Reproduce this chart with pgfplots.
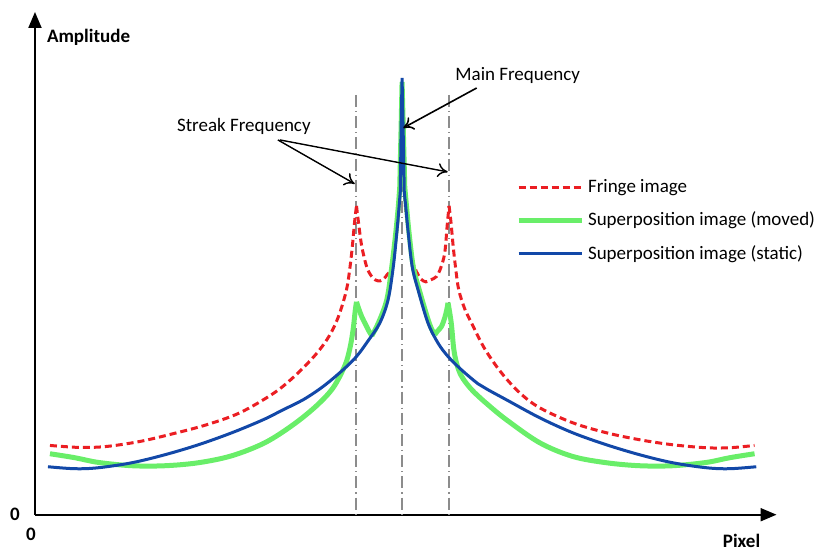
\documentclass[border=0pt]{standalone}
\usepackage{pgfplots}
\pgfplotsset{compat=1.18}
\usepackage{fontspec}
\setmainfont{Carlito}
\usetikzlibrary{arrows.meta}
\definecolor{cred}{RGB}{235,30,35}
\definecolor{cgreen}{RGB}{105,238,105}
\definecolor{cblue}{RGB}{18,72,168}
\definecolor{cgray}{RGB}{140,140,140}
\begin{document}
\begin{tikzpicture}
\begin{axis}[
  scale only axis, width=371pt, height=251.5pt,
  xmin=35, xmax=777, ymin=37, ymax=540,
  axis lines=left,
  axis line style={line width=1pt, -{Triangle[length=8pt,width=6.5pt]}},
  xtick=\empty, ytick=\empty,
  clip=false,
  legend cell align=left,
  legend style={at={(axis cs:516,377)}, anchor=north west, draw=none, fill=none,
    font=\fontsize{9.5}{11}\selectfont, row sep=4.3pt, inner sep=0pt},
  legend image code/.code={\draw[#1] (0pt,0pt) -- (31.5pt,0pt);},
  redl/.style={cred, line width=1.5pt, dash pattern=on 3.5pt off 2pt},
  grnl/.style={cgreen, line width=2.5pt},
  blul/.style={cblue, line width=1.5pt},
  sm/.style={smooth, tension=0.55},
]
\path (axis cs:0,0) rectangle (axis cs:819,552);
% reference lines
\addplot[forget plot, cgray, line width=1pt, dash pattern=on 6pt off 2pt on 0.6pt off 2pt] coordinates {(356.5,457) (356.5,37)};
\addplot[forget plot, cgray, line width=1pt, dash pattern=on 6pt off 2pt on 0.6pt off 2pt] coordinates {(402.5,457) (402.5,37)};
\addplot[forget plot, cgray, line width=1pt, dash pattern=on 6pt off 2pt on 0.6pt off 2pt] coordinates {(449,457) (449,37)};
% Fringe image
\addplot[redl, sm] coordinates {
(50,106.3) (80,104.3) (106.7,105.3) (140,110.3) (173,118) (206.7,127) (240,139)
(273,158) (293,174) (313,194) (325,209) (333.3,223) (340,239) (346.7,262)
(350,283) (352.5,305) (354.8,330) (356.7,346)};
\addlegendentry{Fringe image}
\addplot[redl, sm, forget plot] coordinates {
(356.7,346) (359,327) (361.7,307) (365,292) (368,282) (373,274) (378,271) (383,272)
(388,278) (391.7,284) (396,312) (399,342) (401,372) (402.3,402)};
\addplot[redl, sm, forget plot] coordinates {
(402.3,402) (404,372) (406,342)
(410,312) (413,290) (416.7,280.3) (421,273) (426,270) (431,272) (436.7,275.3)
(441,284) (445,299) (447.5,327) (449.3,346)};
\addplot[redl, sm, forget plot] coordinates {
(449.3,346) (451.2,330) (453.5,305) (456,283) (459,262) (465,243)
(471.7,229) (485,203) (501.7,179) (520,159) (540,144) (573,129) (606.7,119) (640,112)
(673,107) (706.7,104) (730,104) (755,106.3)};
% Superposition moved
\addplot[grnl, sm] coordinates {
(50,98) (75,94) (98.5,89.3) (132,86) (165,86) (198.5,89) (232,96) (265,109)
(293.3,127) (316.7,146) (333.3,164) (345,186) (350,203) (353.3,222)
(355.3,240) (356.7,250)};
\addlegendentry{Superposition image (moved)}
\addplot[grnl, sm, forget plot] coordinates {
(356.7,250) (359,243) (362,235) (366,227) (369,221) (372,216)};
\addplot[grnl, sm, forget plot] coordinates {
(372,216) (378.5,228.7) (387,252) (392,285) (396,319) (398.5,345) (400,365)};
\addplot[grnl, forget plot] coordinates {
(400,365) (401.5,432) (402.3,470) (403.3,432) (405,365)};
\addplot[grnl, sm, forget plot] coordinates {
(405,365) (406.8,345) (409.3,319) (413.5,285) (419.5,262) (429.5,228.7) (435,217)};
\addplot[grnl, sm, forget plot] coordinates {
(435,217) (438,221) (441.7,225.3) (445,234) (447,242) (448.3,249)};
\addplot[grnl, sm, forget plot] coordinates {
(448.3,249) (451.5,229) (454,203) (457,188) (461,177) (467,168) (475,159)
(488.3,147) (506.7,132) (540,109) (573,95.3) (606.7,89) (640,86) (673,86)
(706.7,89.3) (730,94) (755,98)};
% Superposition static
\addplot[blul, sm] coordinates {
(48,85) (75,83) (98.5,84) (132,89) (165,97) (198.5,107) (232,119) (263.3,132)
(283.3,142) (303.3,152) (323.3,165.3) (343.3,182) (356.7,195.3) (368.3,211)
(380,228.7) (388.3,252) (393.5,285) (397,319) (399.3,345) (400.5,360)};
\addlegendentry{Superposition image (static)}
\addplot[blul, forget plot] coordinates {
(400.5,360) (401.5,432) (402.3,474) (403.2,432) (404.5,360)};
\addplot[blul, sm, forget plot] coordinates {
(404.5,360) (406,345) (408.5,319) (412.5,285) (418.3,262) (428.3,228.7)
(438.3,208.7) (448.3,195.3) (461.7,182) (478.3,168) (488.3,162) (506.7,152)
(540,134) (573,119) (606.7,107) (640,97) (673,89) (706.7,84) (730,83) (756.7,85)};
% annotations
\draw[line width=0.8pt, -{To[length=5pt,width=7pt]}] (axis cs:477,464) -- (axis cs:403.5,424);
\draw[line width=0.7pt, -{To[length=5pt,width=7pt]}] (axis cs:278,412) -- (axis cs:355,368);
\draw[line width=0.7pt, -{To[length=5pt,width=7pt]}] (axis cs:280,412) -- (axis cs:448,380);
\node[font=\fontsize{9.5}{11}\selectfont] at (axis cs:518,476) {Main Frequency};
\node[font=\fontsize{9.5}{11}\selectfont] at (axis cs:244,425) {Streak Frequency};
\node[font=\fontsize{9.5}{11}\selectfont\bfseries, anchor=west] at (axis cs:40,515) {Amplitude};
\node[font=\fontsize{9.5}{11}\selectfont\bfseries] at (axis cs:742,11) {Pixel};
\node[font=\fontsize{9.5}{11}\selectfont\bfseries] at (axis cs:15,37) {0};
\node[font=\fontsize{9.5}{11}\selectfont\bfseries] at (axis cs:31,17) {0};
\end{axis}
\end{tikzpicture}
\end{document}
